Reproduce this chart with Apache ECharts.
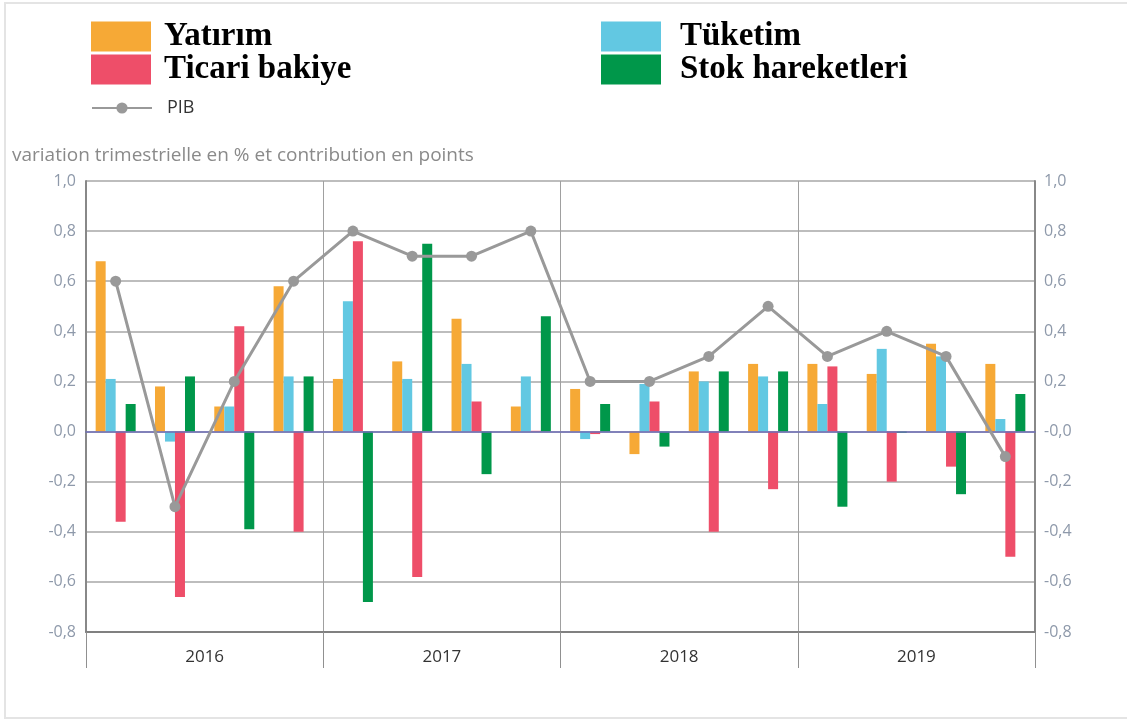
<!DOCTYPE html>
<html>
<head>
<meta charset="utf-8">
<script src="https://cdn.jsdelivr.net/npm/echarts@6/dist/echarts.min.js"></script>
<style>html,body{margin:0;padding:0;background:#fff;}#c{width:1127px;height:720px;}</style>
</head>
<body>
<div id="c"></div>
<script>
const quarters = ['2016T1','2016T2','2016T3','2016T4','2017T1','2017T2','2017T3','2017T4','2018T1','2018T2','2018T3','2018T4','2019T1','2019T2','2019T3','2019T4'];
const years = ['2016','2017','2018','2019'];
const yatirim = [0.68,0.18,0.10,0.58, 0.21,0.28,0.45,0.10, 0.17,-0.09,0.24,0.27, 0.27,0.23,0.35,0.27];
const tuketim = [0.21,-0.04,0.10,0.22, 0.52,0.21,0.27,0.22, -0.03,0.19,0.20,0.22, 0.11,0.33,0.30,0.05];
const ticari = [-0.36,-0.66,0.42,-0.40, 0.76,-0.58,0.12,0.003, -0.01,0.12,-0.40,-0.23, 0.26,-0.20,-0.14,-0.50];
const stok = [0.11,0.22,-0.39,0.22, -0.68,0.75,-0.17,0.46, 0.11,-0.06,0.24,0.24, -0.30,-0.005,-0.25,0.15];
const pib = [0.6,-0.3,0.2,0.6, 0.8,0.7,0.7,0.8, 0.2,0.2,0.3,0.5, 0.3,0.4,0.3,-0.1];
const names = ['Yatırım','Tüketim','Ticari bakiye','Stok hareketleri','PIB'];
const colors = ['#F6A936','#62C8E2','#EE4E69','#00974A','#9a9a9a'];

const chart = echarts.init(document.getElementById('c'));
function fmt(v, right){
  if (Math.abs(v) < 1e-9) return right ? '-0,0' : '0,0';
  return v.toFixed(1).replace('.', ',');
}
const labelStyle = {fontFamily:'Open Sans', fontSize:16, color:'#8e99aa'};
function bar(i, data){
  return {name:names[i], type:'bar', data:data, xAxisIndex:0, yAxisIndex:0,
    barWidth:10, barGap:'0%', itemStyle:{color:colors[i]}, z:2};
}
chart.setOption({
  animation:false,
  backgroundColor:'#fff',
  graphic:[{type:'rect', shape:{x:5,y:3,width:1130,height:715}, style:{fill:'none', stroke:'#e4e4e4', lineWidth:2}, z:-1}],
  title:{text:'variation trimestrielle en % et contribution en points', left:12, top:146, padding:0,
    textStyle:{fontFamily:'Open Sans', fontSize:19, fontWeight:'normal', color:'#8a8a8a'}},
  legend:[
    {data:['Yatırım','Ticari bakiye'], orient:'vertical', left:91, top:20, itemWidth:60, itemHeight:30, itemGap:0,
     icon:'rect', selectedMode:false, padding:0,
     textStyle:{fontFamily:'Liberation Serif', fontWeight:'bold', fontSize:33, lineHeight:30, color:'#000', padding:[0,0,0,8]}},
    {data:['Tüketim','Stok hareketleri'], orient:'vertical', left:601, top:20, itemWidth:60, itemHeight:30, itemGap:0,
     icon:'rect', selectedMode:false, padding:0,
     textStyle:{fontFamily:'Liberation Serif', fontWeight:'bold', fontSize:33, lineHeight:30, color:'#000', padding:[0,0,0,14]}},
    {data:['PIB'], left:91, top:99, itemWidth:60, itemHeight:14, selectedMode:false, padding:0,
     textStyle:{fontFamily:'Open Sans', fontSize:18, color:'#333', padding:[0,0,0,10]}}
  ],
  grid:{left:86, right:92, top:181, bottom:88, containLabel:false},
  xAxis:[
    {type:'category', data:quarters, gridIndex:0, position:'bottom',
     axisLabel:{show:false}, axisTick:{show:false}, splitLine:{show:false},
     axisLine:{show:true, onZero:true, lineStyle:{color:'#6d6db8', width:1.5}}, z:5},
    {type:'category', data:years, gridIndex:0, position:'bottom', boundaryGap:true,
     axisLine:{show:true, onZero:false, lineStyle:{color:'#808080', width:2}},
     axisTick:{show:true, length:36, lineStyle:{color:'#909090', width:1}},
     splitLine:{show:true, lineStyle:{color:'#a0a0a0', width:1}},
     axisLabel:{margin:17, fontFamily:'Open Sans', fontSize:17, color:'#333'}}
  ],
  yAxis:[
    {type:'value', min:-0.8, max:1.0, interval:0.2, position:'left',
     axisLine:{show:true, lineStyle:{color:'#888', width:2}}, axisTick:{show:false},
     splitLine:{show:true, lineStyle:{color:'#bdbdbd', width:2}},
     axisLabel:Object.assign({margin:10, formatter:v=>fmt(v,false)}, labelStyle)},
    {type:'value', min:-0.8, max:1.0, interval:0.2, position:'right',
     axisLine:{show:true, lineStyle:{color:'#888', width:2}}, axisTick:{show:false},
     splitLine:{show:false},
     axisLabel:Object.assign({margin:9, formatter:v=>fmt(v,true)}, labelStyle)}
  ],
  series:[
    bar(0, yatirim), bar(1, tuketim), bar(2, ticari), bar(3, stok),
    {name:'PIB', type:'line', data:pib, xAxisIndex:0, yAxisIndex:0, symbol:'circle', symbolSize:11,
     itemStyle:{color:'#999999'}, lineStyle:{color:'#999999', width:3}, z:10}
  ]
});
</script>
</body>
</html>
